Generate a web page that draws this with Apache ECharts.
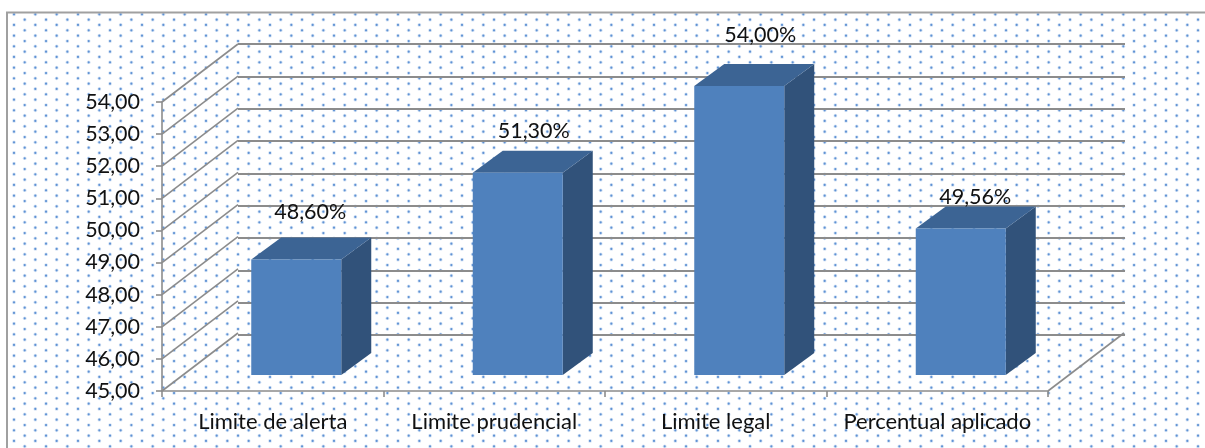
<!DOCTYPE html>
<html>
<head>
<meta charset="utf-8">
<style>html,body{margin:0;padding:0;background:#fff}#main{width:1205px;height:448px}</style>
<script src="https://cdn.jsdelivr.net/npm/echarts@6/dist/echarts.min.js"></script>
</head>
<body>
<div id="main"></div>
<script>
// dados do grafico
var categories = ['Limite de alerta', 'Limite prudencial', 'Limite legal', 'Percentual aplicado'];
var values = [48.60, 51.30, 54.00, 49.56];
var yTicks = [45, 46, 47, 48, 49, 50, 51, 52, 53, 54];

// deslocamento manual dos rotulos, como no original
var labelShift = [[14, -47], [16, -42], [21, -51], [14.5, -32]];

var wallDx = 76, wallDy = -58;     // parede do fundo
var barDx = 23.5, barDy = -16;     // posicao da barra dentro da profundidade
var sideDx = 30, sideDy = -22;     // profundidade da barra
var barWidth = 90;
var lineColor = '#8c8c8c';
var textFont = 'Lato';

function fmt(v) { return v.toFixed(2).replace('.', ','); }

// fundo pontilhado
function dotTile() {
  var c = document.createElement('canvas');
  c.width = 64; c.height = 32;
  var ctx = c.getContext('2d');
  function dot(x, y) {
    ctx.fillStyle = '#d8e5f5';
    ctx.beginPath(); ctx.arc(x, y, 1.9, 0, Math.PI * 2); ctx.fill();
    ctx.fillStyle = '#5f92d4';
    ctx.beginPath(); ctx.arc(x, y, 1.1, 0, Math.PI * 2); ctx.fill();
  }
  for (var i = -1; i < 4; i++) {
    for (var j = -1; j < 4; j++) {
      dot(14 + i * 64 / 3, 14.3 + j * 32 / 3);
      dot(24.7 + i * 64 / 3, 19.7 + j * 32 / 3);
    }
  }
  return c;
}

function line(x1, y1, x2, y2) {
  return {
    type: 'line',
    shape: { x1: x1, y1: y1, x2: x2, y2: y2 },
    style: { stroke: lineColor, lineWidth: 1.6 }
  };
}

function renderSlant(params, api) {
  var p = api.coord([0, api.value(0)]);
  var left = params.coordSys.x;
  var children = [line(left, p[1], left + wallDx, p[1] + wallDy)];
  if (params.dataIndex === 0) {
    var right = left + params.coordSys.width;
    children.push(line(right, p[1], right + wallDx, p[1] + wallDy));
  }
  return { type: 'group', children: children };
}

function renderBar(params, api) {
  var i = api.value(0);
  var top = api.coord([i, api.value(1)]);
  var base = api.coord([i, 45]);
  var x0 = top[0] + barDx - barWidth / 2;
  var x1 = x0 + barWidth;
  var y0 = top[1] + barDy;
  var y1 = base[1] + barDy;
  return {
    type: 'group',
    children: [
      { type: 'polygon', shape: { points: [[x1, y0], [x1 + sideDx, y0 + sideDy], [x1 + sideDx, y1 + sideDy], [x1, y1]] }, style: { fill: '#31527a' } },
      { type: 'polygon', shape: { points: [[x0, y0], [x0 + sideDx, y0 + sideDy], [x1 + sideDx, y0 + sideDy], [x1, y0]] }, style: { fill: '#3c6494' } },
      { type: 'rect', shape: { x: x0, y: y0, width: barWidth, height: y1 - y0 }, style: { fill: '#4f81bd' } },
      {
        type: 'text',
        x: top[0] + labelShift[i][0] + barDx,
        y: y0 + labelShift[i][1],
        style: {
          text: fmt(api.value(1)) + '%',
          font: '21.5px ' + textFont,
          fill: '#111',
          align: 'center',
          verticalAlign: 'middle'
        }
      }
    ]
  };
}

var myChart = echarts.init(document.getElementById('main'));
myChart.setOption({
  animation: false,
  backgroundColor: '#fff',
  graphic: [{
    type: 'rect',
    z: -10,
    shape: { x: 7, y: 12.5, width: 1215, height: 450 },
    style: { fill: { image: dotTile(), repeat: 'repeat' }, stroke: '#a0a0a0', lineWidth: 2 }
  }],
  grid: [
    { left: 162, top: 102, width: 886, height: 289 },
    { left: 238, top: 44, width: 887, height: 291 }
  ],
  xAxis: [{
    type: 'category',
    gridIndex: 0,
    data: categories,
    axisLine: { lineStyle: { color: lineColor, width: 1.6 } },
    axisTick: { show: true, interval: 0, length: 6, lineStyle: { color: lineColor, width: 1.6 } },
    axisLabel: { interval: 0, fontFamily: textFont, fontSize: 22, color: '#111', margin: 20 }
  }, {
    type: 'category',
    gridIndex: 1,
    data: categories,
    show: false
  }],
  yAxis: [{
    type: 'value',
    gridIndex: 0,
    min: 45,
    max: 54,
    interval: 1,
    axisLine: { show: true, lineStyle: { color: lineColor, width: 1.6 } },
    axisTick: { show: true, length: 6, lineStyle: { color: lineColor, width: 1.6 } },
    axisLabel: { fontFamily: textFont, fontSize: 21.5, color: '#111', margin: 22, padding: [3, 0, 0, 0], formatter: fmt },
    splitLine: { show: false }
  }, {
    type: 'value',
    gridIndex: 1,
    min: 45,
    max: 54,
    interval: 1,
    axisLine: { show: false },
    axisTick: { show: false },
    axisLabel: { show: false },
    splitLine: { show: true, lineStyle: { color: lineColor, width: 2 } }
  }],
  series: [{
    type: 'custom',
    xAxisIndex: 0,
    yAxisIndex: 0,
    z: 1,
    silent: true,
    renderItem: renderSlant,
    encode: { y: 0 },
    data: yTicks.map(function (t) { return [t]; })
  }, {
    type: 'custom',
    xAxisIndex: 0,
    yAxisIndex: 0,
    z: 5,
    renderItem: renderBar,
    encode: { x: 0, y: 1 },
    data: values.map(function (v, i) { return [i, v]; })
  }]
});
</script>
</body>
</html>
